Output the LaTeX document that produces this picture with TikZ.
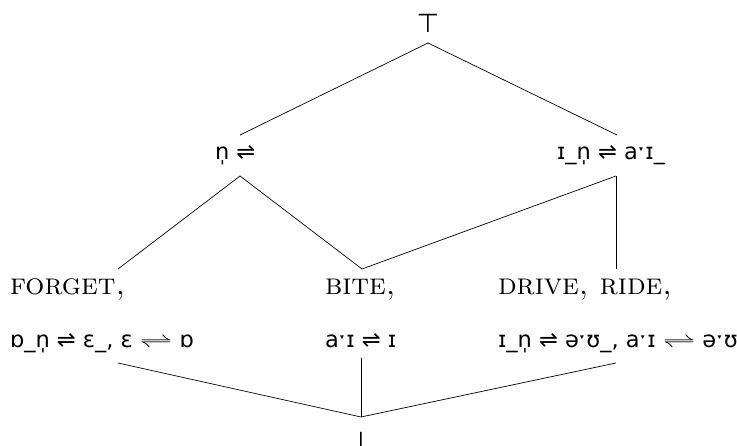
\documentclass[tikz,border=0pt]{standalone}
\usepackage{fontspec}
\usepackage{graphicx}
\newfontfamily\ipa{DejaVu Sans}
\newcommand{\longharp}{\scalebox{1.6}[1]{$\rightleftharpoons$}}
\frenchspacing
\begin{document}
\begin{tikzpicture}[x=1pt,y=-1pt,
  every node/.style={inner sep=0pt, outer sep=0pt},
  ipatext/.style={anchor=base west, font=\ipa\fontsize{22.5}{26}\selectfont},
  sctext/.style={anchor=base west, font=\fontsize{30}{34}\selectfont\scshape},
  symb/.style={anchor=base, font=\ipa\fontsize{26}{26}\selectfont},
  edge/.style={draw=black, line width=0.7pt}]
\useasboundingbox (0,0) rectangle (737,446);
% top and bottom
\node[symb] (top) at (428,33) {⊤};
\node[symb] (bot) at (361,451) {⊥};
% upper level
\node[ipatext] (n) at (215,160) {n̩ ⇌};
\node[ipatext] (in) at (557,160) {ɪ\_n̩ ⇌ aˑɪ\_};
% leaves
\node[sctext] (forget) at (10,295) {forget,};
\node[ipatext] (forgetrule) at (10,348) {ɒ\_n̩ ⇌ ɛ\_, ɛ \longharp{} ɒ};
\node[sctext] (bite) at (325,295) {bite,};
\node[ipatext] (biterule) at (325,348) {aˑɪ ⇌ ɪ};
\node[sctext] (drive) at (498,295) {drive, ride,};
\node[ipatext] (driverule) at (498,348) {ɪ\_n̩ ⇌ əˑʊ\_, aˑɪ \longharp{} əˑʊ};
% attachment points
\coordinate (topS) at (428,43);
\coordinate (nN) at (240,135);
\coordinate (nS) at (240,176);
\coordinate (inN) at (617,135);
\coordinate (inS) at (616,176);
\coordinate (forgetN) at (118,269);
\coordinate (forgetS) at (118,363);
\coordinate (biteN) at (362,269);
\coordinate (biteS) at (361,358);
\coordinate (driveN) at (616,269);
\coordinate (driveS) at (616,363);
\coordinate (botN) at (361,417);
% connectors
\draw[edge] (topS) -- (nN);
\draw[edge] (topS) -- (inN);
\draw[edge] (nS) -- (forgetN);
\draw[edge] (nS) -- (biteN);
\draw[edge] (inS) -- (biteN);
\draw[edge] (inS) -- (driveN);
\draw[edge] (forgetS) -- (botN);
\draw[edge] (biteS) -- (botN);
\draw[edge] (driveS) -- (botN);
\end{tikzpicture}
\end{document}
